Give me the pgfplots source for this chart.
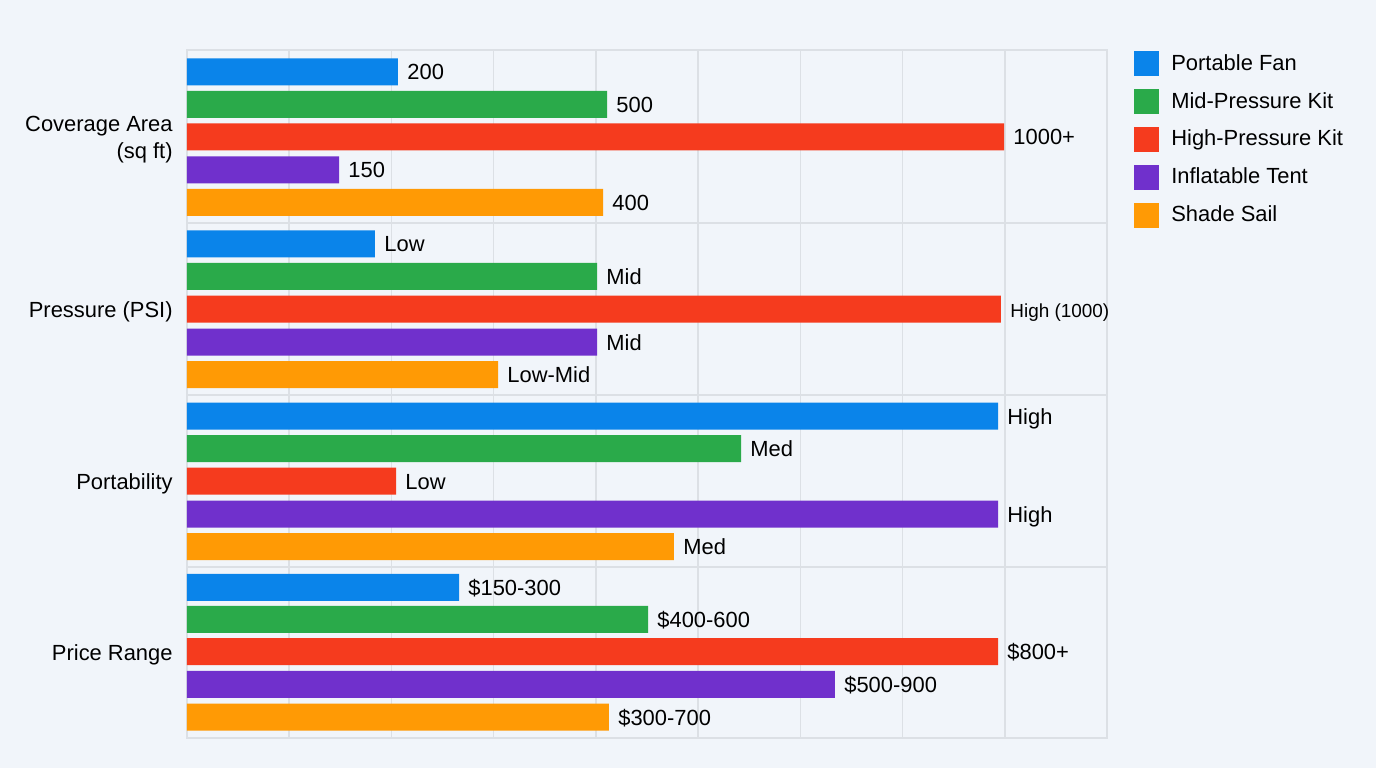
\documentclass[border=0pt]{standalone}
\usepackage{pgfplots}
\pgfplotsset{compat=1.18}
\usepackage{fontspec}
\setmainfont{Liberation Sans}
\definecolor{bgc}{HTML}{F1F5FA}
\definecolor{gridc}{HTML}{DCE0E5}
\definecolor{cblue}{HTML}{0A84EA}
\definecolor{cgreen}{HTML}{2AAA4A}
\definecolor{cred}{HTML}{F53B1E}
\definecolor{cpurple}{HTML}{7030CC}
\definecolor{corange}{HTML}{FF9A05}
\protected\def\hiK{{\fontsize{9.5}{11}\selectfont High (1000)}}
\protected\def\dol{\$}
\begin{document}
\begin{tikzpicture}
\fill[bgc] (-93.5bp,-15bp) rectangle (594.5bp,369bp);
\begin{axis}[
  at={(0,0)}, anchor=south west,
  scale only axis, width=460bp, height=344bp,
  xmin=0, xmax=900, ymin=50, ymax=738, y dir=reverse,
  xbar, bar width=27, bar shift=0,
  axis line style={draw=gridc, line width=0.8bp},
  xtick={100,200,...,800}, xticklabels={}, xmajorgrids,
  ytick={137,309,481,652},
  yticklabels={{Coverage Area\\(sq ft)},{Pressure (PSI)},{Portability},{Price Range}},
  yticklabel style={align=right, font=\fontsize{11}{14}\selectfont, text=black, inner sep=0pt, xshift=-7bp, yshift=-1.3bp},
  extra y ticks={223,395,567}, extra y tick labels={},
  extra y tick style={ymajorgrids},
  major tick length=0,
  grid style={draw=gridc, line width=0.8bp},
  point meta=explicit symbolic,
  nodes near coords,
  nodes near coords style={anchor=west, font=\fontsize{11}{13}\selectfont, text=black, inner sep=0pt, xshift=4.5bp, text height=8bp, text depth=0pt},
  legend cell align=left,
  legend image code/.code={\fill[#1,draw=none] (0bp,-6.3bp) rectangle (12.5bp,6.2bp);},
  legend style={at={(1,1)}, anchor=north west, xshift=10.5bp, yshift=2bp,
    draw=none, fill=none, font=\fontsize{11}{13}\selectfont,
    row sep=5.5bp, /tikz/every odd column/.append style={column sep=4bp}},
]
\addplot[fill=cblue, draw=none] coordinates {(206.4,72) [200] (183.9,244) [Low] (793.4,416) [High] (266.1,587.3) [\dol150-300]};
\addlegendentry{Portable Fan}
\addplot[fill=cgreen, draw=none] coordinates {(410.9,104.5) [500] (401.1,276.5) [Mid] (542,448.5) [Med] (451,619.3) [\dol400-600]};
\addlegendentry{Mid-Pressure Kit}
\addplot[fill=cred, draw=none] coordinates {(799.3,137) [1000+] (796.3,309) [\hiK] (204.5,481) [Low] (793.4,651.7) [\dol800+]};
\addlegendentry{High-Pressure Kit}
\addplot[fill=cpurple, draw=none] coordinates {(148.7,170) [150] (401.1,342) [Mid] (793.4,514) [High] (633.9,684.3) [\dol500-900]};
\addlegendentry{Inflatable Tent}
\addplot[fill=corange, draw=none] coordinates {(407,202.5) [400] (304.3,374.5) [Low-Mid] (476.4,546.5) [Med] (412.8,717) [\dol300-700]};
\addlegendentry{Shade Sail}
\end{axis}
\pgfresetboundingbox
\path (-93.5bp,-15bp) rectangle (594.5bp,369bp);
\end{tikzpicture}
\end{document}
